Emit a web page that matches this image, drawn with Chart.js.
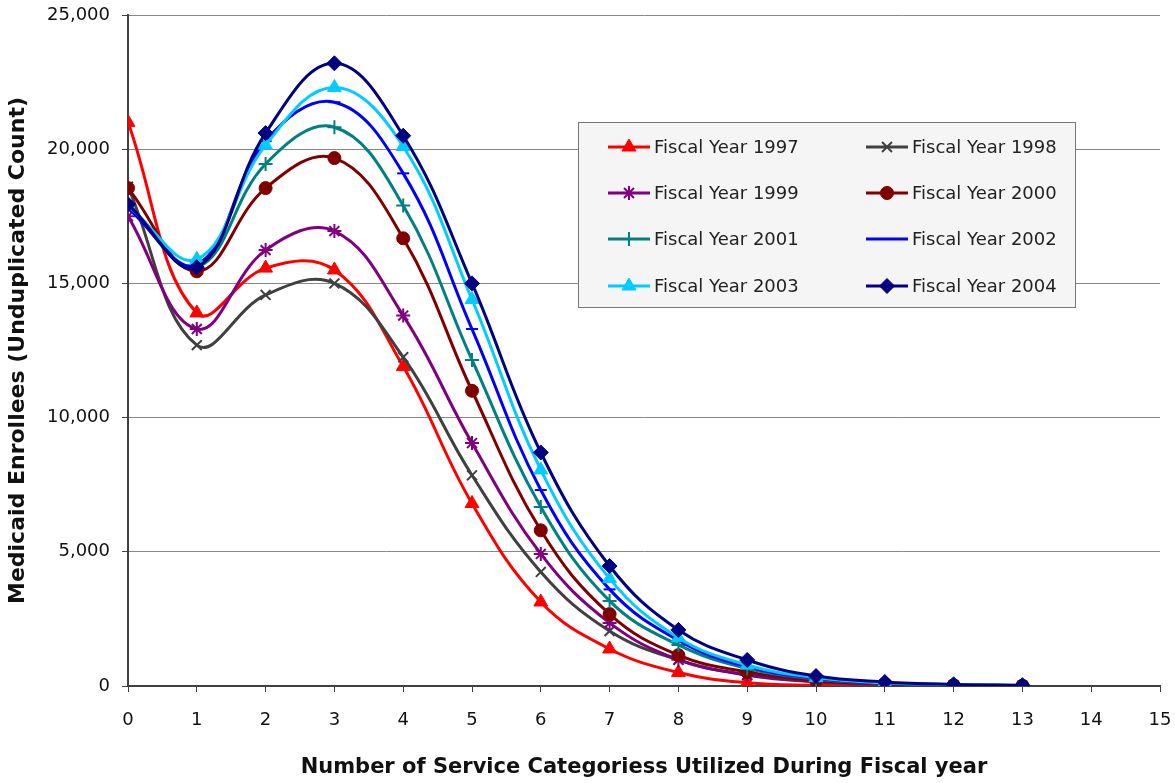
<!DOCTYPE html>
<html>
<head>
<meta charset="utf-8">
<script src="https://cdn.jsdelivr.net/npm/chart.js@4.4.1/dist/chart.umd.min.js"></script>
<style>
  html, body { margin: 0; padding: 0; background: #fff; }
  #wrap { width: 1175px; height: 783px; position: relative; }
</style>
</head>
<body>
<div id="wrap"><canvas id="chart" width="1175" height="783"></canvas></div>
<script>
// number of service categories used (x axis)
const categories = [0, 1, 2, 3, 4, 5, 6, 7, 8, 9, 10, 11, 12, 13]

const fy1997 = [21000, 13900, 15570, 15500, 11900, 6800, 3130, 1380, 500, 120, 30, 10, 5, 2]
const fy1998 = [18600, 12700, 14570, 15000, 12250, 7850, 4250, 2050, 970, 400, 150, 60, 20, 10]
const fy1999 = [17500, 13300, 16240, 16950, 13800, 9050, 4920, 2350, 980, 420, 170, 70, 25, 10]
const fy2000 = [18550, 15450, 18550, 19670, 16680, 11000, 5800, 2680, 1150, 520, 200, 80, 30, 12]
const fy2001 = [17900, 15600, 19450, 20820, 17900, 12150, 6670, 3170, 1530, 650, 260, 100, 40, 15]
const fy2002 = [17800, 15700, 20300, 21750, 19100, 13300, 7300, 3600, 1700, 720, 290, 110, 45, 18]
const fy2003 = [17900, 15900, 20150, 22300, 20100, 14400, 8050, 4000, 1800, 780, 310, 120, 50, 20]
const fy2004 = [17950, 15600, 20600, 23200, 20500, 15000, 8700, 4470, 2090, 970, 370, 150, 60, 25]

const seriesNames = ['Fiscal Year 1997', 'Fiscal Year 1998', 'Fiscal Year 1999', 'Fiscal Year 2000',
  'Fiscal Year 2001', 'Fiscal Year 2002', 'Fiscal Year 2003', 'Fiscal Year 2004']
const seriesValues = [fy1997, fy1998, fy1999, fy2000, fy2001, fy2002, fy2003, fy2004]

const xTicks = [0, 15]
const yTicks = [0, 25000]

const colors = ['#ff0000', '#404040', '#800080', '#800000', '#008080', '#0000ff', '#00ccff', '#000080']
const markers = ['triangle', 'crossRot', 'star', 'circle', 'cross', 'line', 'triangle', 'rectRot']
const markerSize = { triangle: 8, crossRot: 7, star: 7, circle: 6.5, cross: 7, line: 6, rectRot: 7.5 }

const isSolid = (m) => m === 'circle' || m === 'triangle' || m === 'rectRot'

const datasets = seriesValues.map((vals, i) => ({
  label: seriesNames[i],
  data: vals.map((v, j) => ({ x: categories[j], y: v })),
  borderColor: colors[i],
  backgroundColor: colors[i],
  borderWidth: 3,
  tension: 0.4,
  pointStyle: markers[i],
  pointRadius: markerSize[markers[i]],
  pointBorderWidth: isSolid(markers[i]) ? 1 : 2,
  // later fiscal years sit on top, as in the source chart
  order: seriesValues.length - 1 - i,
}))

// boxed two-column legend inside the plot
const boxLegend = {
  id: 'boxLegend',
  afterDatasetsDraw(chart) {
    const ctx = chart.ctx
    const box = { x: 578, y: 122, w: 497, h: 185 }
    ctx.save()
    ctx.fillStyle = '#f5f5f5'
    ctx.fillRect(box.x, box.y, box.w, box.h)
    ctx.strokeStyle = '#777'
    ctx.lineWidth = 1
    ctx.strokeRect(box.x + 0.5, box.y + 0.5, box.w, box.h)

    const colX = [608, 866]
    const rowY = [147, 193, 239, 286]
    ctx.font = '18px "DejaVu Sans"'
    ctx.textBaseline = 'middle'
    seriesNames.forEach((name, i) => {
      const x = colX[i % 2]
      const y = rowY[Math.floor(i / 2)]
      ctx.strokeStyle = colors[i]
      ctx.fillStyle = colors[i]
      ctx.lineWidth = 3
      ctx.beginPath()
      ctx.moveTo(x, y)
      ctx.lineTo(x + 42, y)
      ctx.stroke()
      ctx.lineWidth = datasets[i].pointBorderWidth
      Chart.helpers.drawPoint(ctx, {
        pointStyle: markers[i], radius: markerSize[markers[i]], rotation: 0,
        borderWidth: datasets[i].pointBorderWidth,
      }, x + 21, y)
      ctx.fillStyle = '#222'
      ctx.fillText(name, x + 46, y + 1)
    })
    ctx.restore()
  },
}

new Chart(document.getElementById('chart'), {
  type: 'line',
  data: { datasets },
  options: {
    responsive: false,
    animation: false,
    layout: { padding: { top: 15, right: 15, left: 0, bottom: 0 } },
    plugins: {
      legend: { display: false },
      tooltip: { enabled: false },
    },
    scales: {
      x: {
        type: 'linear',
        min: xTicks[0],
        max: xTicks[1],
        ticks: {
          stepSize: 1,
          padding: 18,
          color: '#111',
          font: { family: 'DejaVu Sans', size: 18 },
          maxRotation: 0,
        },
        grid: { drawOnChartArea: false, tickLength: 6, tickColor: '#404040', tickWidth: 1 },
        border: { color: '#404040', width: 2 },
        title: {
          display: true,
          text: 'Number of Service Categoriess Utilized During Fiscal year',
          color: '#111',
          font: { family: 'DejaVu Sans', size: 21, weight: 'bold' },
          padding: { top: 0, bottom: 3 },
        },
        afterFit(scale) {
          scale.height = 97
          // plot edges are set by layout padding, not by label overhang
          scale.paddingLeft = 0
          scale.paddingRight = 0
        },
      },
      y: {
        min: yTicks[0],
        max: yTicks[1],
        ticks: {
          stepSize: 5000,
          padding: 12,
          color: '#111',
          font: { family: 'DejaVu Sans', size: 18 },
          callback: (v) => v.toLocaleString('en-US'),
        },
        grid: { color: '#888', lineWidth: 1, tickLength: 6, tickColor: '#404040' },
        border: { color: '#404040', width: 2 },
        title: {
          display: true,
          text: 'Medicaid Enrollees (Unduplicated Count)',
          color: '#111',
          font: { family: 'DejaVu Sans', size: 22, weight: 'bold' },
          padding: { top: 5, bottom: 0 },
        },
        afterFit(scale) {
          scale.width = 128
          scale.paddingTop = 0
          scale.paddingBottom = 0
        },
      },
    },
  },
  plugins: [boxLegend],
})
</script>
</body>
</html>
